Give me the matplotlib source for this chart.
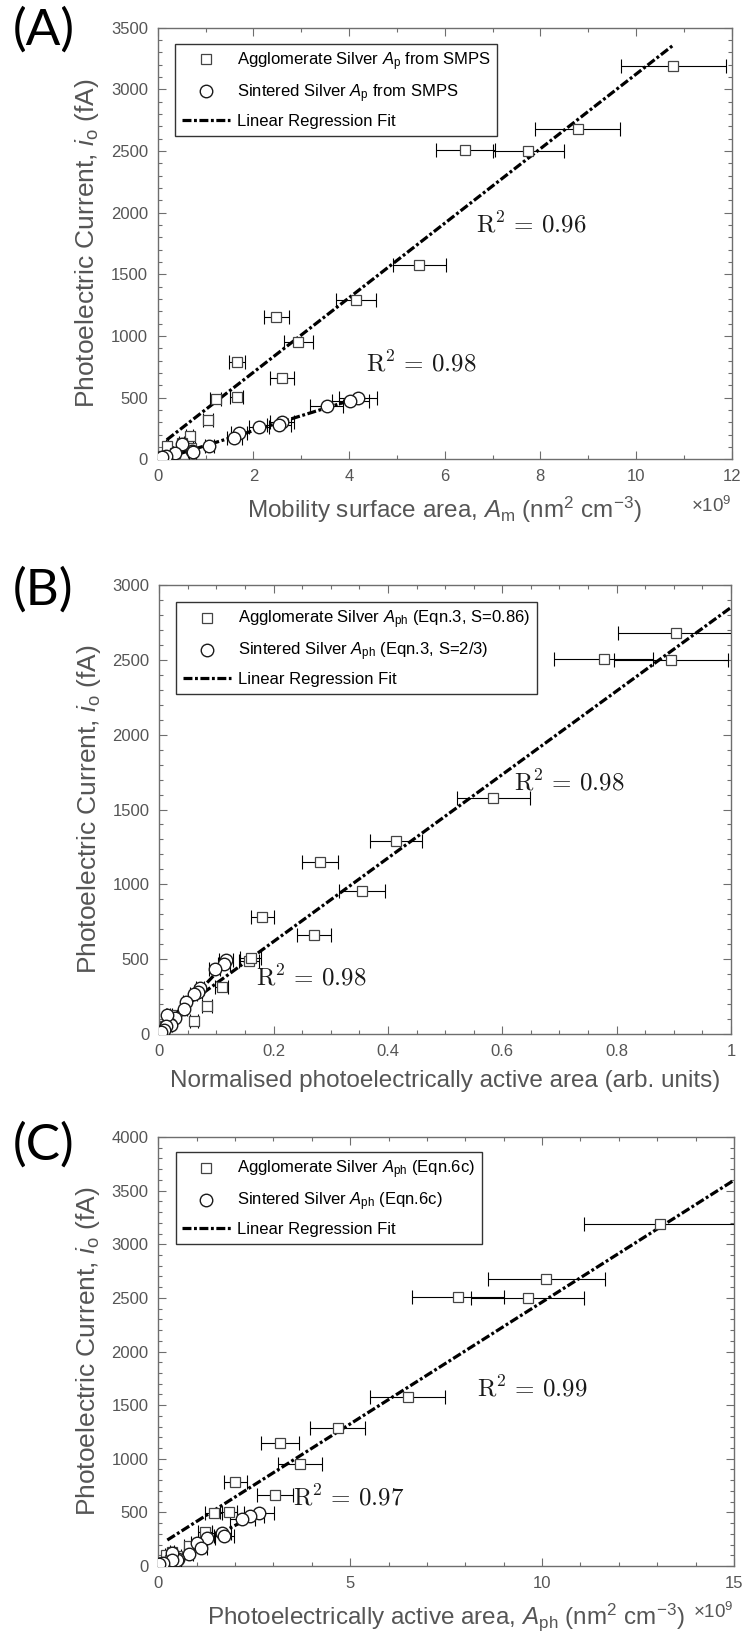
import matplotlib
matplotlib.use("Agg")
import matplotlib.pyplot as plt
from matplotlib.lines import Line2D
from matplotlib.ticker import MultipleLocator
from matplotlib import font_manager

# ---------------- data ----------------
agg_y = [3190, 2680, 2505, 2500, 1575, 1290, 1150, 955, 785, 660, 490, 505, 315, 190, 130, 105, 90, 55, 25]
sint_y = [495, 470, 435, 305, 280, 265, 215, 170, 110, 65, 60, 125, 55, 30, 15]

# Panel A: mobility surface area (x1e9 nm2 cm-3)
A_agg_x = [10.78, 8.78, 6.43, 7.75, 5.47, 4.14, 2.48, 2.94, 1.66, 2.59, 1.21, 1.65, 1.05, 0.67, 0.50, 0.19, 0.70, 0.36, 0.12]
A_agg_xerr = [1.10, 0.89, 0.62, 0.74, 0.56, 0.42, 0.26, 0.30, 0.16, 0.25, 0.12, 0.14, 0.10, 0.07, 0.05, 0.02, 0.07, 0.04, 0.01]
A_sint_x = [4.18, 4.03, 3.53, 2.59, 2.54, 2.12, 1.70, 1.60, 1.08, 0.71, 0.73, 0.50, 0.37, 0.17, 0.09]
A_sint_xerr = [0.40, 0.39, 0.34, 0.25, 0.25, 0.21, 0.17, 0.16, 0.10, 0.07, 0.07, 0.05, 0.04, 0.02, 0.01]
A_fit_agg_x = [0.19, 10.78]
A_fit_agg_y = [158, 3359]
A_fit_sint_x = [0.09, 4.18]
A_fit_sint_y = [1, 496]

# Panel B: normalised photoelectrically active area
B_agg_x = [1.00, 0.903, 0.777, 0.895, 0.584, 0.414, 0.281, 0.355, 0.180, 0.270, 0.157, 0.160, 0.109, 0.083, 0.020, 0.015, 0.060, 0.010, 0.005]
B_agg_xerr = [0.11, 0.10, 0.086, 0.099, 0.064, 0.046, 0.031, 0.040, 0.020, 0.030, 0.018, 0.018, 0.012, 0.009, 0.002, 0.002, 0.007, 0.001, 0.001]
B_sint_x = [0.117, 0.113, 0.097, 0.072, 0.068, 0.060, 0.047, 0.044, 0.028, 0.018, 0.020, 0.013, 0.012, 0.008, 0.003]
B_sint_xerr = [0.012, 0.011, 0.010, 0.007, 0.007, 0.006, 0.005, 0.004, 0.003, 0.002, 0.002, 0.001, 0.001, 0.001, 0.0003]
B_fit_agg_x = [0.005, 1.0]
B_fit_agg_y = [74, 2850]
B_fit_sint_x = [0.003, 0.117]
B_fit_sint_y = [12, 480]

# Panel C: photoelectrically active area (x1e9 nm2 cm-3)
C_agg_x = [13.08, 10.11, 7.81, 9.62, 6.50, 4.67, 3.17, 3.69, 2.01, 3.03, 1.44, 1.83, 1.22, 0.80, 0.35, 0.20, 0.50, 0.30, 0.10]
C_agg_xerr = [1.98, 1.53, 1.20, 1.47, 0.98, 0.72, 0.49, 0.57, 0.31, 0.47, 0.22, 0.23, 0.18, 0.12, 0.05, 0.03, 0.08, 0.05, 0.02]
C_sint_x = [2.62, 2.40, 2.19, 1.65, 1.72, 1.28, 1.01, 1.10, 0.79, 0.52, 0.50, 0.36, 0.35, 0.12, 0.03]
C_sint_xerr = [0.39, 0.36, 0.33, 0.25, 0.26, 0.19, 0.15, 0.17, 0.12, 0.08, 0.08, 0.05, 0.05, 0.02, 0.005]
C_fit_agg_x = [0.235, 15.0]
C_fit_agg_y = [242, 3597]
C_fit_sint_x = [0.03, 2.62]
C_fit_sint_y = [10, 494]

panel_letters = ["(A)", "(B)", "(C)"]
legend_labels = [
    ["Agglomerate Silver $A_\\mathrm{p}$ from SMPS", "Sintered Silver $A_\\mathrm{p}$ from SMPS", "Linear Regression Fit"],
    ["Agglomerate Silver $A_\\mathrm{ph}$ (Eqn.3, S=0.86)", "Sintered Silver $A_\\mathrm{ph}$ (Eqn.3, S=2/3)", "Linear Regression Fit"],
    ["Agglomerate Silver $A_\\mathrm{ph}$ (Eqn.6c)", "Sintered Silver $A_\\mathrm{ph}$ (Eqn.6c)", "Linear Regression Fit"],
]
xlabels = [
    "Mobility surface area, $A_\\mathrm{m}$ (nm$^2$ cm$^{-3}$)",
    "Normalised photoelectrically active area (arb. units)",
    "Photoelectrically active area, $A_\\mathrm{ph}$ (nm$^2$ cm$^{-3}$)",
]
ylabel = "Photoelectric Current, $i_\\mathrm{o}$ (fA)"
r2_texts = [["$\\mathrm{R}^2\\,=\\,0.96$", "$\\mathrm{R}^2\\,=\\,0.98$"],
            ["$\\mathrm{R}^2\\,=\\,0.98$", "$\\mathrm{R}^2\\,=\\,0.98$"],
            ["$\\mathrm{R}^2\\,=\\,0.99$", "$\\mathrm{R}^2\\,=\\,0.97$"]]
r2_pos = [[(6.65, 1900), (4.35, 780)],
          [(0.62, 1680), (0.17, 380)],
          [(8.3, 1650), (3.5, 640)]]
xlims = [(0, 12), (0, 1), (0, 15)]
ylims = [(0, 3500), (0, 3000), (0, 4000)]
xmajor = [2, 0.2, 5]
xminor = [1, 0.05, 1]
ymajor = [500, 500, 500]
yminor = [100, 100, 100]

# ---------------- style ----------------
avail = {f.name for f in font_manager.fontManager.ttflist}
narrow = "Liberation Sans Narrow" if "Liberation Sans Narrow" in avail else "Liberation Sans"
plt.rcParams["font.family"] = ["Liberation Sans", "DejaVu Sans"]
plt.rcParams["mathtext.fontset"] = "custom"
plt.rcParams["mathtext.rm"] = "Liberation Sans"
plt.rcParams["mathtext.it"] = "Liberation Sans:italic"
plt.rcParams["lines.scale_dashes"] = True

TXT = "#555555"
SPINE = "#6e6e6e"
W, H = 742, 1648
fig = plt.figure(figsize=(W / 100, H / 100), dpi=100)

boxes = [(157.7, 27.7, 731.7, 459.3), (159.3, 585, 731.0, 1034), (158.3, 1137, 734.0, 1566)]
letter_y = [30, 590, 1145]
legend_top = [0.963, 0.962, 0.965]

fit_style = dict(color="black", lw=2.3, linestyle=(0, (2.8, 0.8, 0.9, 0.8)))
sq_style = dict(marker="s", ms=6.5, mfc="white", mec="#444444", mew=0.9, linestyle="none")
ci_style = dict(marker="o", ms=9, mfc="white", mec="#1a1a1a", mew=1.0, linestyle="none")
err_kw = dict(ecolor="black", elinewidth=0.8, capsize=5, capthick=0.8)

data = [
    (A_agg_x, A_agg_xerr, A_sint_x, A_sint_xerr, A_fit_agg_x, A_fit_agg_y, A_fit_sint_x, A_fit_sint_y),
    (B_agg_x, B_agg_xerr, B_sint_x, B_sint_xerr, B_fit_agg_x, B_fit_agg_y, B_fit_sint_x, B_fit_sint_y),
    (C_agg_x, C_agg_xerr, C_sint_x, C_sint_xerr, C_fit_agg_x, C_fit_agg_y, C_fit_sint_x, C_fit_sint_y),
]

for i in range(3):
    l, t, r, b = boxes[i]
    ax = fig.add_axes([l / W, 1 - b / H, (r - l) / W, (b - t) / H])
    ax_x, ax_xe, s_x, s_xe, fax, fay, fsx, fsy = data[i]

    ax.plot(fax, fay, zorder=2, **fit_style)
    ax.plot(fsx, fsy, zorder=2, **fit_style)
    ax.errorbar(ax_x, agg_y, xerr=ax_xe, fmt="none", zorder=3, **err_kw)
    ax.errorbar(s_x, sint_y, xerr=s_xe, fmt="none", zorder=3, **err_kw)
    ax.plot(ax_x, agg_y, zorder=4, **sq_style)
    ax.plot(s_x, sint_y, zorder=4, **ci_style)

    ax.set_xlim(*xlims[i])
    ax.set_ylim(*ylims[i])
    ax.xaxis.set_major_locator(MultipleLocator(xmajor[i]))
    ax.xaxis.set_minor_locator(MultipleLocator(xminor[i]))
    ax.yaxis.set_major_locator(MultipleLocator(ymajor[i]))
    ax.yaxis.set_minor_locator(MultipleLocator(yminor[i]))
    ax.tick_params(which="both", direction="in", top=True, right=True, colors=SPINE,
                   labelcolor=TXT, labelsize=12, width=0.8)
    ax.tick_params(which="major", length=6, pad=7)
    ax.tick_params(which="minor", length=3)
    if i == 1:
        ax.set_xticklabels([f"{v:g}" for v in ax.get_xticks()])
    for sp in ax.spines.values():
        sp.set_color(SPINE)
        sp.set_linewidth(1.0)

    ax.set_xlabel(xlabels[i], fontsize=17.5, color=TXT, labelpad=8)
    ax.set_ylabel(ylabel, fontsize=19, color=TXT, labelpad=7)

    for txt, (tx, ty) in zip(r2_texts[i], r2_pos[i]):
        ax.text(tx, ty, txt, fontsize=18, color="#1a1a1a", math_fontfamily="cm",
                ha="left", va="center", zorder=5)

    if i != 1:
        ax.text(1.0, -0.108, "$\\times10^{9}$", transform=ax.transAxes, fontsize=13.5,
                color=TXT, ha="right", va="center")

    handles = [Line2D([], [], **sq_style), Line2D([], [], **ci_style),
               Line2D([], [], **fit_style)]
    leg = ax.legend(handles, legend_labels[i], loc="upper left",
                    bbox_to_anchor=(0.03, legend_top[i]), frameon=True, fancybox=False,
                    framealpha=1, edgecolor="#333333", handlelength=2.9,
                    handletextpad=0.4, borderpad=0.4, labelspacing=0.55,
                    borderaxespad=0, prop={"family": narrow, "size": 12})
    leg.get_frame().set_linewidth(1.0)
    for tx in leg.get_texts():
        tx.set_color("black")

    fig.text(13 / W, 1 - letter_y[i] / H, panel_letters[i], fontsize=37,
             family=["Lato", "Open Sans", "DejaVu Sans"], ha="left", va="center", color="black")

fig.savefig("out.png", dpi=100)
